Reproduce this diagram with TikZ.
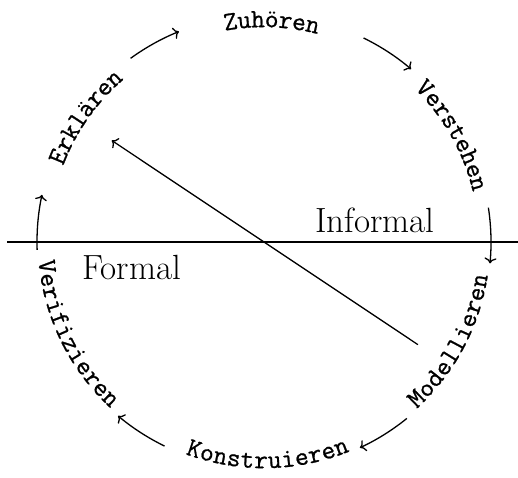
\documentclass[tikz,border=0pt]{standalone}
\usepackage{fontspec}
\newfontfamily\lblfam{Latin Modern Mono}[FakeBold=0.8]
\usetikzlibrary{decorations.text,arrows.meta,calc}
\newcommand\lblfont{\lblfam\fontsize{26.6}{30}\selectfont}
\begin{document}
\begin{tikzpicture}[x=1pt,y=1pt,
  conn/.style={line width=1.3pt,-{To[length=5.5pt,width=12pt]}},
  rule/.style={line width=1.1pt},
  lbl/.style={decorate,decoration={text along path,text align=center,raise=-5.7pt,text={|\lblfont|#1}}},
  big/.style={anchor=base west,inner sep=0pt,font=\fontsize{35}{40}\selectfont}]
\useasboundingbox (0,0) rectangle (518,477);
\coordinate (O) at (264,235);
% labels (upper half: clockwise, lower half: counterclockwise)
\path[lbl={Erklären}]  ($(O)+(175:220.5)$) arc[start angle=175,end angle=115,radius=220.5];
\path[lbl={Zuhören}]   ($(O)+(118:220.5)$) arc[start angle=118,end angle=58,radius=220.5];
\path[lbl={Verstehen}] ($(O)+(59.5:220.5)$) arc[start angle=59.5,end angle=-0.5,radius=220.5];
\path[lbl={Modellieren}]  ($(O)+(-58:220.5)$) arc[start angle=-58,end angle=2,radius=220.5];
\path[lbl={Konstruieren}] ($(O)+(-119:220.5)$) arc[start angle=-119,end angle=-59,radius=220.5];
\path[lbl={Verifizieren}] ($(O)+(-184:220.5)$) arc[start angle=-184,end angle=-124,radius=220.5];
% cycle arrows
\draw[conn] ($(O)+(126:227)$) arc[start angle=126,end angle=112,radius=227];
\draw[conn] ($(O)+(64:227)$) arc[start angle=64,end angle=49.6,radius=227];
\draw[conn] ($(O)+(8.7:227)$) arc[start angle=8.7,end angle=-5.4,radius=227];
\draw[conn] ($(O)+(-51:227)$) arc[start angle=-51,end angle=-65,radius=227];
\draw[conn] ($(O)+(-116:227)$) arc[start angle=-116,end angle=-130,radius=227];
\draw[conn] ($(O)+(182:227)$) arc[start angle=182,end angle=168,radius=227];
% separator
\coordinate (L) at (7,235);
\coordinate (R) at (518,235);
\draw[rule] (L) -- (R);
\node[big] (inf) at (315,245) {Informal};
\node[big] (for) at (82,198) {Formal};
% feedback arrow
\coordinate (ms) at ($(O)+(-33.7:185)$);
\coordinate (es) at ($(O)+(146.3:183)$);
\draw[conn] (ms) -- (es);
\end{tikzpicture}
\end{document}
